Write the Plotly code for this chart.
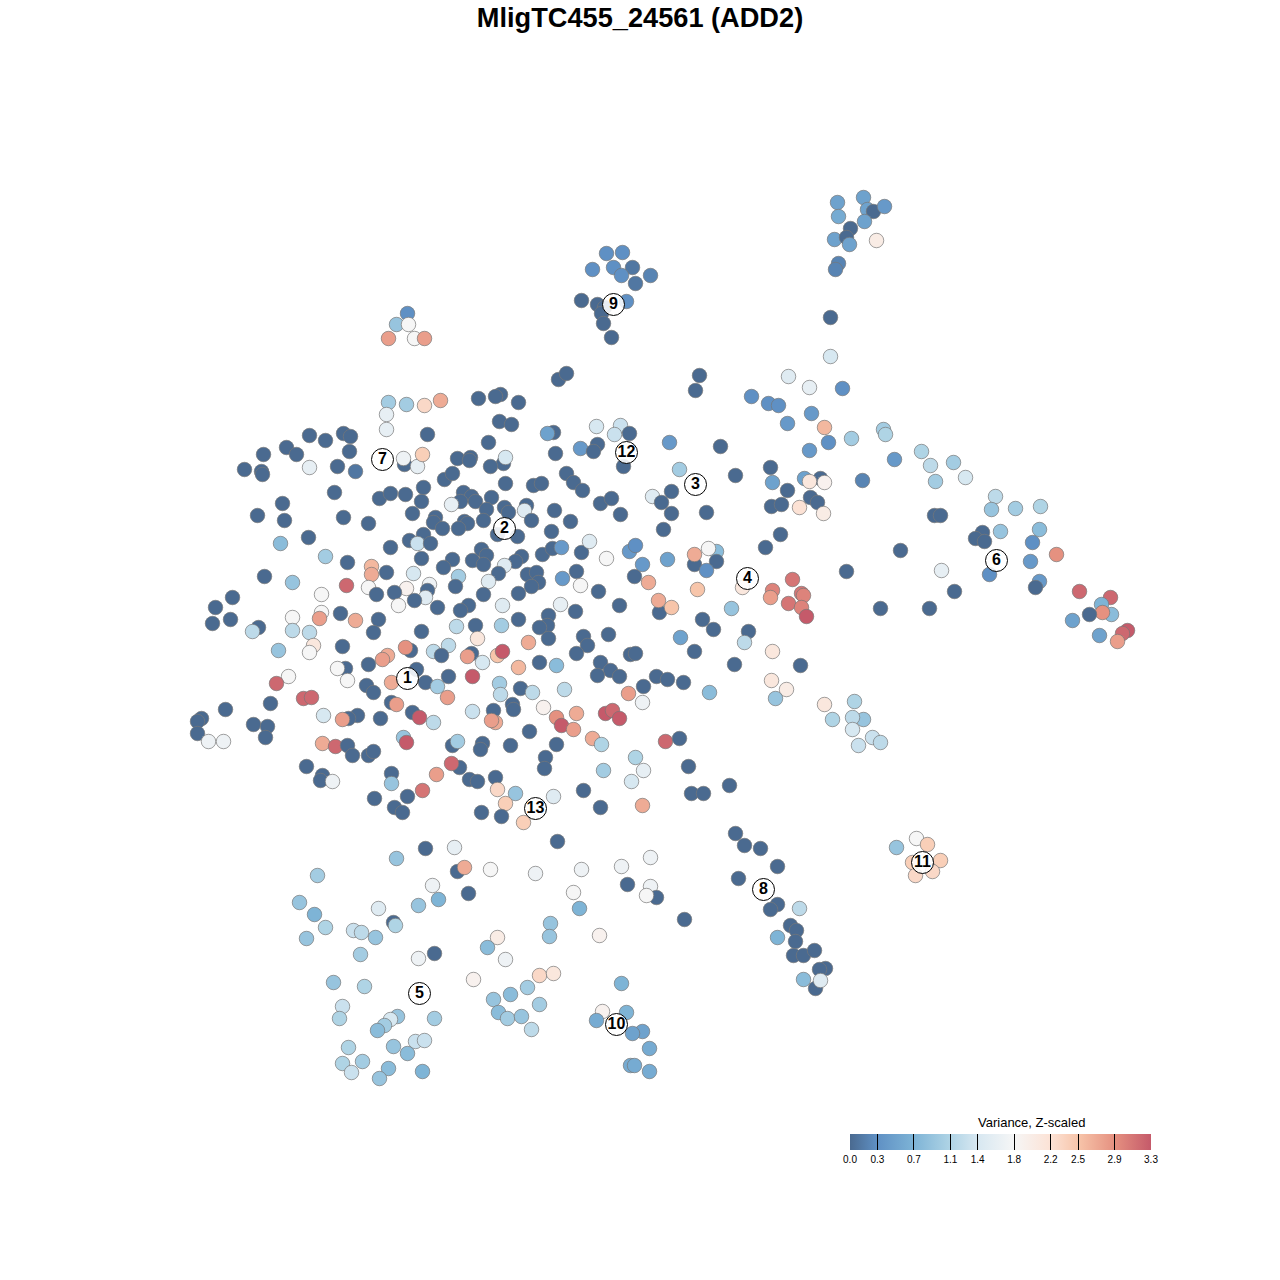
import plotly.graph_objects as go

# (x, y, variance), grouped by area
top_right = [(837,202,0.5),(863,197,0.5),(867,209,0.5),(873,211,0),(884,206,0.4),(838,216,0.6),(864,221,0.5),(850,228,0),(834,239,0.5),(846,237,0),(849,244,0.5),(876,240,2.0),(838,263,0.2),(835,269,0.2),(830,317,0),(830,356,1.4),(842,388,0.3)]
cluster_9 = [(606,253,0.3),(622,252,0.3),(592,269,0.3),(613,267,0.3),(632,267,0.1),(621,275,0.3),(650,275,0.2),(635,283,0.1),(581,300,0),(597,304,0),(626,301,0.3),(604,307,0),(601,313,0),(603,323,0),(611,337,0)]
small_top = [(407,313,0.3),(396,324,0.9),(408,324,1.8),(388,338,2.8),(414,338,1.8),(424,338,2.8)]
upper_mid = [(558,379,0),(566,373,0),(699,375,0),(695,390,0),(500,394,0),(495,396,0),(478,398,0),(518,402,0),(388,402,1.0),(406,404,1.0),(424,405,2.3),(440,400,2.7),(386,414,1.6),(386,429,1.6),(499,421,0),(511,424,0),(596,426,1.4),(620,425,1.3),(614,434,1.3),(629,433,0),(553,432,0),(547,433,0.5),(427,434,0),(488,442,0),(580,448,0.4),(597,444,0),(593,451,0),(669,442,0.4),(720,446,0)]
upper_left = [(309,435,0),(325,440,0),(343,433,0),(350,436,0),(286,447,0),(296,454,0),(263,454,0),(349,451,0),(244,469,0),(261,471,0),(262,474,0),(309,467,1.6),(337,466,0),(355,471,0.1),(404,464,0),(403,458,1.7),(417,466,1.6),(422,454,2.4),(457,458,0),(470,457,0),(469,460,0),(503,463,0),(505,457,1.4),(490,466,0),(555,453,0),(623,466,0)]
center_a = [(444,479,0),(452,473,0),(423,487,0),(405,494,0),(421,501,0),(412,513,0),(463,492,0),(471,496,0),(475,501,0),(460,501,0),(451,504,1.6),(491,497,0),(505,483,0),(533,485,0),(541,483,0),(566,473,0),(573,482,0),(582,490,0),(600,503,0),(611,498,0),(620,514,0),(554,510,0),(570,521,0),(504,507,0),(508,512,0),(526,505,0),(524,510,1.5),(531,520,0),(486,509,0),(483,520,0),(435,517,0),(433,522,0),(442,528,0),(464,521,0),(467,523,0),(458,528,0),(497,534,0),(517,536,0),(551,531,0)]
center_b = [(423,534,0),(409,540,0),(417,543,1.3),(430,543,0),(421,558,0),(481,549,0),(486,555,0),(472,560,0),(483,564,0),(452,559,0),(443,567,0),(521,556,0),(515,561,0),(504,565,1.5),(542,554,0),(552,548,0),(561,547,0.4),(581,552,0),(589,541,1.5),(606,558,1.8),(629,551,0.4),(635,545,0.3),(576,571,0),(562,578,0.4),(580,585,1.8),(598,591,0),(634,576,0),(527,574,0),(536,572,0),(538,582,0),(531,586,0),(518,593,0),(498,573,0),(488,581,1.5),(483,594,0),(458,576,1.0),(455,586,0)]
center_c = [(413,573,1.4),(429,584,1.7),(406,588,1.9),(427,590,0),(425,597,1.5),(414,600,0),(437,607,0),(468,605,0),(460,610,0),(502,605,1.5),(560,604,1.6),(575,611,0),(619,605,0),(548,615,0),(547,625,0),(539,627,0),(518,619,0),(456,626,1.2),(475,625,0),(501,625,1.0),(421,631,0),(477,638,2.1),(583,636,0),(608,634,0),(548,638,0),(528,642,2.7)]
left_top = [(334,492,0),(379,498,0),(390,493,0),(282,503,0),(257,515,0),(284,520,0),(343,517,0),(368,523,0),(308,537,0),(280,543,0.8),(325,556,1.0),(390,547,0),(347,562,0),(264,576,0),(292,582,0.9),(371,566,2.6),(371,574,2.7),(386,572,0),(346,585,3.2),(321,594,1.8),(368,587,1.8),(376,594,0),(394,592,0),(232,597,0),(215,607,0),(212,623,0),(230,619,0),(398,605,1.8),(292,617,1.8),(321,612,1.8),(319,618,2.8),(340,613,0),(355,620,2.7),(378,619,0),(373,632,0),(258,627,0),(252,631,1.2),(292,630,1.2),(309,632,1.2)]
right_mid = [(652,496,1.5),(661,502,0),(671,491,0),(671,513,0),(706,512,0),(663,529,0),(679,469,1.0),(735,475,0),(770,467,0),(772,482,0.5),(787,490,0),(804,478,0.5),(820,478,0),(809,481,2.1),(824,482,1.9),(771,506,0),(781,504,0),(799,507,2.2),(810,497,0),(817,502,0),(823,513,2.0),(862,480,0.2),(780,534,0),(765,547,0),(642,564,0.4),(667,559,0.5),(694,564,0),(694,554,2.7),(716,551,0.8),(708,548,1.8),(716,561,0),(706,570,0.3),(648,582,2.7),(697,589,2.5),(742,587,2.1),(659,612,0),(658,600,2.7),(671,607,2.5),(731,608,0.9),(702,619,0),(713,629,0),(748,631,0),(680,637,0.5),(744,642,1.2),(694,651,0),(772,651,2.1),(734,664,0),(800,665,0)]
row_650 = [(313,645,2.1),(278,650,0.9),(342,646,0),(309,652,1.8),(410,650,0),(405,647,2.9),(433,651,1.2),(448,645,1.2),(441,655,0),(471,653,0),(467,656,2.8),(497,655,2.5),(502,651,3.3),(587,645,0),(576,653,0),(630,654,0),(635,653,0),(368,664,0),(387,655,2.7),(382,659,2.8),(482,662,1.4),(518,667,2.6),(539,662,0),(556,665,0.8),(600,662,0),(610,670,0),(345,668,0),(337,668,1.8),(416,669,0)]
row_680 = [(288,676,1.8),(347,680,1.8),(276,683,3.2),(366,685,0),(373,692,0),(391,682,2.7),(425,682,0),(437,686,1.0),(448,676,0),(472,676,3.3),(499,683,1.0),(520,688,0),(532,692,1.2),(564,689,1.2),(597,675,0),(619,676,0),(656,676,0),(667,679,0),(683,682,0),(643,686,0)]
row_710 = [(628,693,2.8),(447,697,2.8),(500,694,1.2),(709,692,0.8),(771,680,2.1),(786,689,2.0),(775,698,0.9),(642,702,1.7),(303,698,3.2),(311,697,3.2),(270,703,0),(391,702,0),(396,704,2.8),(412,712,0),(225,709,0),(512,704,0),(513,709,0),(543,707,1.9),(576,713,2.7),(605,713,3.3),(612,710,3.2),(619,718,3.3),(556,717,2.9),(561,725,3.3),(573,729,2.8),(472,711,1.3),(493,710,0),(495,722,2.7),(491,720,2.8),(419,717,3.3),(433,722,1.2),(380,718,0),(357,715,0),(348,718,0),(342,719,2.8),(323,715,1.4),(201,718,0),(197,721,0),(197,733,0),(253,724,0),(267,726,0),(265,737,0),(208,741,1.7),(223,741,1.7)]
right_low = [(824,704,2.1),(854,701,1.1),(832,719,1.1),(863,719,0.9),(852,717,1.2),(852,729,1.4),(872,737,1.3),(880,742,1.2),(858,745,1.3)]
row_750 = [(529,731,0),(592,738,2.7),(601,744,1.1),(635,757,1.1),(556,744,0),(665,741,3.2),(679,738,0),(510,745,0),(482,743,0),(480,749,0),(452,745,0),(457,741,1.0),(403,737,0.9),(406,742,3.3),(322,743,2.7),(335,746,3.2),(347,745,0),(352,755,0),(368,755,0),(373,751,0),(545,757,0),(544,768,0),(459,767,0),(451,763,3.2),(436,774,2.8),(306,766,0),(322,775,0),(320,780,0),(332,781,1.7),(391,773,0),(391,783,0.9)]
row_800 = [(603,770,1.0),(643,770,1.6),(631,781,1.4),(688,766,0),(729,785,0),(691,793,0),(703,793,0),(469,779,0),(477,781,0),(495,777,0),(497,789,2.3),(422,790,3.1),(407,796,0),(374,798,0),(394,807,0),(402,812,0),(515,793,0.9),(505,803,2.4),(583,790,0),(553,796,1.5),(600,807,0),(642,805,2.7),(481,812,0),(501,816,0),(523,822,2.4),(557,841,0)]
cluster_8 = [(735,833,0),(744,845,0),(760,848,0),(777,866,0),(738,878,0),(777,904,0),(770,909,0),(799,908,1.2),(790,925,0),(796,930,0),(795,941,0),(777,937,0.7),(793,955,0),(803,955,0),(814,950,0),(825,968,0),(819,969,0),(803,979,0.8),(815,988,0),(820,980,1.5)]
lower_a = [(425,848,0),(454,847,1.6),(396,858,0.9),(457,871,0),(464,867,2.7),(490,869,1.8),(535,873,1.7),(581,869,1.7),(621,866,1.7),(650,857,1.7),(317,875,1.0),(432,885,1.7),(627,884,0),(650,886,1.7),(468,893,0),(573,892,1.8),(656,897,0),(646,895,1.8),(299,902,0.9),(418,905,0.9),(438,899,0.7),(378,908,1.5),(579,908,0.7),(314,914,0.7),(684,919,0),(393,922,0),(395,925,1.1),(325,927,1.1),(353,930,1.3),(361,932,1.2),(375,937,0.9),(306,938,0.9),(550,923,0.9),(549,936,0.9),(497,937,2.0),(487,947,0.8),(599,935,1.9)]
lower_b = [(360,954,1.0),(434,953,0),(418,958,1.7),(505,959,1.7),(473,979,1.9),(539,975,2.3),(553,973,2.1),(333,982,0.9),(364,986,1.1),(527,987,1.0),(621,983,0.7),(510,994,0.8),(493,999,0.9),(539,1004,1.0),(342,1006,1.3),(498,1012,0.8),(507,1018,1.0),(521,1016,0.9),(602,1011,1.9),(626,1012,0.7),(339,1018,1.1),(397,1016,0.9),(390,1019,1.4),(434,1018,1.0),(384,1025,1.0),(377,1030,0.8),(531,1029,1.2),(596,1020,0.6),(642,1031,0.5),(632,1033,0.5),(649,1048,0.6),(393,1046,0.9),(415,1041,1.3),(424,1040,1.3),(348,1047,1.1),(407,1053,0.8),(362,1061,1.0),(342,1063,1.1),(351,1072,1.3),(388,1068,0.8),(379,1078,0.9),(422,1071,0.7),(630,1065,0.6),(634,1065,0.6),(649,1071,0.6)]
cluster_11 = [(916,838,1.8),(927,844,2.4),(896,847,0.9),(912,862,2.4),(940,860,2.4),(932,871,2.3),(915,875,2.3)]
right_arm = [(751,396,0.3),(768,403,0.3),(778,405,0.3),(788,376,1.5),(809,387,1.6),(811,413,0.4),(787,423,0.4),(824,427,2.6),(828,442,0.3),(851,438,1.0),(883,429,1.0),(885,434,1.1),(809,450,0.4),(894,459,0.4),(921,451,1.1),(930,465,1.2),(953,462,1.0),(935,481,1.0),(965,477,1.4),(995,496,1.2),(991,509,0.9),(1015,508,1.0),(1040,506,1.1),(934,515,0),(940,515,0),(982,532,0),(975,538,0),(984,541,0),(1000,531,0.9),(1039,529,0.8),(1032,542,0.3),(1030,561,0.4),(1056,554,2.9),(900,550,0),(846,571,0),(941,570,1.6),(989,574,0.3),(1039,581,0.4),(1035,587,0),(954,591,0),(880,608,0),(929,608,0),(1079,591,3.2),(1110,597,3.2),(1101,604,0.7),(1111,614,0.8),(1102,612,2.9),(1089,614,0),(1072,620,0.5),(1099,635,0.5),(1127,630,3.3),(1122,633,3.2),(1117,641,2.8)]
red_group = [(792,579,3.1),(772,590,3.0),(770,597,2.8),(788,603,3.1),(801,593,3.1),(803,595,3.0),(801,607,3.0),(806,616,3.3)]

areas = [top_right, cluster_9, small_top, upper_mid, upper_left, center_a, center_b, center_c, left_top, right_mid,
         row_650, row_680, row_710, right_low, row_750, row_800, cluster_8, lower_a, lower_b, cluster_11, right_arm, red_group]
points = [p for area in areas for p in area]
point_x = [p[0] for p in points]
point_y = [p[1] for p in points]
point_value = [p[2] for p in points]

cluster_names = ["1", "2", "3", "4", "5", "6", "7", "8", "9", "10", "11", "12", "13"]
cluster_x = [407, 504, 695, 747, 419, 996, 382, 763, 613, 616, 922, 626, 535]
cluster_y = [678, 528, 484, 578, 993, 560, 459, 889, 304, 1024, 862, 452, 808]

tick_values = [0.0, 0.3, 0.7, 1.1, 1.4, 1.8, 2.2, 2.5, 2.9, 3.3]

scale = [
    [0.0, "#4a6a90"],
    [0.09, "#5f90c4"],
    [0.21, "#7db3d6"],
    [0.33, "#aed3e5"],
    [0.42, "#d6e7f1"],
    [0.545, "#f6f6f6"],
    [0.667, "#fce2d5"],
    [0.76, "#f7c4a9"],
    [0.88, "#e59080"],
    [1.0, "#c55a6a"],
]

fig = go.Figure()
fig.add_trace(go.Scatter(
    x=point_x, y=point_y, mode="markers", hoverinfo="skip", showlegend=False,
    marker=dict(
        size=14.5, color=point_value, colorscale=scale, cmin=0, cmax=3.3,
        line=dict(color="#777777", width=0.7),
        colorbar=dict(
            orientation="h", lenmode="pixels", len=301, thicknessmode="pixels", thickness=16,
            x=1000.5 / 1280, xanchor="center", y=1 - 1181 / 1280, yanchor="bottom", xpad=0, ypad=0,
            tickmode="array", tickvals=tick_values, ticktext=[f"{t:.1f}" for t in tick_values],
            ticks="inside", ticklen=16, tickcolor="black", tickwidth=1,
            tickfont=dict(family="Liberation Sans", size=10, color="black"),
            outlinewidth=0, borderwidth=0,
        ),
    ),
))
fig.add_trace(go.Scatter(
    x=cluster_x, y=cluster_y, mode="markers+text", text=cluster_names, textposition="middle center",
    textfont=dict(family="Liberation Sans", size=16, color="black", weight="bold"),
    hoverinfo="skip", showlegend=False,
    marker=dict(size=22, color="rgba(255,255,255,0.88)", line=dict(color="black", width=1)),
))
fig.update_layout(
    width=1280, height=1280, margin=dict(l=0, r=0, t=0, b=0),
    paper_bgcolor="white", plot_bgcolor="white",
    xaxis=dict(range=[-0.5, 1279.5], visible=False),
    yaxis=dict(range=[1279.5, -0.5], visible=False),
    title=dict(
        text="<b>MligTC455_24561 (ADD2)</b>", x=0.5, xanchor="center", y=1 - 17 / 1280, yanchor="middle",
        font=dict(family="Liberation Sans", size=27.2, color="black"),
    ),
    annotations=[dict(
        text="Variance, Z-scaled", x=1031 / 1280, y=1 - 1122 / 1280, xref="paper", yref="paper",
        xanchor="center", yanchor="middle",
        showarrow=False, font=dict(family="Liberation Sans", size=13, color="black"),
    )],
)
fig.write_html("out.html", config={"displayModeBar": False}, post_script="document.body.style.margin='0';")
